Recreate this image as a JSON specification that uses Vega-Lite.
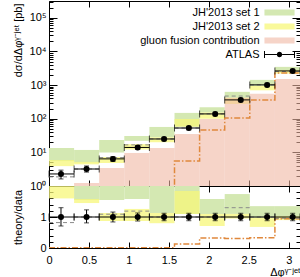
{
  "$schema": "https://vega.github.io/schema/vega-lite/v6.json",
  "padding": {"left": 11, "top": 0, "right": 0, "bottom": 0},
  "spacing": 0,
  "bounds": "flush",
  "resolve": {"scale": {"color": "independent", "shape": "independent"}},
  "config": {
    "font": "Liberation Sans",
    "view": {"stroke": "black", "strokeWidth": 1},
    "axis": {"domain": false, "grid": false, "tickColor": "black", "tickWidth": 1, "labelColor": "black", "labelFontSize": 11, "titleFontSize": 11, "titleFontWeight": "normal", "titleColor": "black", "labelFont": "Liberation Sans", "titleFont": "Liberation Sans", "labelFlush": false}
  },
  "datasets": {
    "bins": [
      {"x0": 0, "x1": 0.31416, "g_lo": 5.5, "g_hi": 13.5, "y_lo": 3.9, "y_hi": 5.9, "pk": 0.5, "dash": 1.87, "rg_lo": 2.4, "rg_hi": 5.9, "ry_lo": 1.6, "ry_hi": 2.6, "rdash": 0.82},
      {"x0": 0.31416, "x1": 0.62832, "g_lo": 5.0, "g_hi": 11.8, "y_lo": 4.4, "y_hi": 5.2, "pk": 1.23, "dash": 3.2, "rg_lo": 1.55, "rg_hi": 3.7, "ry_lo": 1.45, "ry_hi": 1.58, "rdash": 1.0},
      {"x0": 0.62832, "x1": 0.94248, "g_lo": 9.9, "g_hi": 23.4, "y_lo": 4.8, "y_hi": 7.3, "pk": 3.4, "dash": 7.0, "rg_lo": 1.55, "rg_hi": 3.6, "ry_lo": 0.87, "ry_hi": 1.13, "rdash": 1.09},
      {"x0": 0.94248, "x1": 1.25664, "g_lo": 22, "g_hi": 30.7, "y_lo": 12.2, "y_hi": 17.6, "pk": 9.6, "dash": 16.7, "rg_lo": 1.58, "rg_hi": 2.2, "ry_lo": 0.87, "ry_hi": 1.26, "rdash": 1.19},
      {"x0": 1.25664, "x1": 1.5708, "g_lo": 28, "g_hi": 57, "y_lo": 20, "y_hi": 28, "pk": 13.5, "dash": 25, "rg_lo": 1.13, "rg_hi": 2.28, "ry_lo": 0.8, "ry_hi": 1.13, "rdash": 1.0},
      {"x0": 1.5708, "x1": 1.88496, "g_lo": 58, "g_hi": 149, "y_lo": 58, "y_hi": 98, "pk": 35, "dash": 53, "rg_lo": 1.1, "rg_hi": 2.8, "ry_lo": 1.1, "ry_hi": 1.84, "rdash": 1.0},
      {"x0": 1.88496, "x1": 2.19911, "g_lo": 153, "g_hi": 220, "y_lo": 99, "y_hi": 153, "pk": 98, "dash": 139, "rg_lo": 1.1, "rg_hi": 1.58, "ry_lo": 0.71, "ry_hi": 1.1, "rdash": 1.0},
      {"x0": 2.19911, "x1": 2.51327, "g_lo": 417, "g_hi": 630, "y_lo": 275, "y_hi": 417, "pk": 417, "dash": 472, "rg_lo": 1.1, "rg_hi": 1.74, "ry_lo": 0.95, "ry_hi": 1.1, "rdash": 1.3},
      {"x0": 2.51327, "x1": 2.82743, "g_lo": 945, "g_hi": 1430, "y_lo": 700, "y_hi": 945, "pk": 550, "dash": 1014, "rg_lo": 0.97, "rg_hi": 1.35, "ry_lo": 0.68, "ry_hi": 0.97, "rdash": 1.0},
      {"x0": 2.82743, "x1": 3.14159, "g_lo": 2800, "g_hi": 3480, "y_lo": 2200, "y_hi": 2800, "pk": 1530, "dash": 2534, "rg_lo": 1.03, "rg_hi": 1.35, "ry_lo": 0.9, "ry_hi": 1.03, "rdash": 0.96}
    ],
    "steps": [
      {"x": 0, "o": 0.02, "ro": 0.01},
      {"x": 0.31416, "o": 0.03, "ro": 0.01},
      {"x": 0.62832, "o": 0.06, "ro": 0.01},
      {"x": 0.94248, "o": 0.14, "ro": 0.01},
      {"x": 1.25664, "o": 0.25, "ro": 0.01},
      {"x": 1.5708, "o": 5.5, "ro": 0.13},
      {"x": 1.88496, "o": 46, "ro": 0.32},
      {"x": 2.19911, "o": 106, "ro": 0.31},
      {"x": 2.51327, "o": 363, "ro": 0.33},
      {"x": 2.82743, "o": 2300, "ro": 0.94},
      {"x": 3.14159, "o": 2300, "ro": 0.94}
    ],
    "atlas": [
      {"x": 0.15, "x0": 0, "x1": 0.31416, "y": 2.28, "ylo": 1.62, "yhi": 2.96, "r": 1, "rlo": 0.71, "rhi": 1.3},
      {"x": 0.47, "x0": 0.31416, "x1": 0.62832, "y": 3.2, "ylo": 2.59, "yhi": 3.94, "r": 1, "rlo": 0.81, "rhi": 1.23},
      {"x": 0.8, "x0": 0.62832, "x1": 0.94248, "y": 6.4, "ylo": 5.38, "yhi": 7.42, "r": 1, "rlo": 0.84, "rhi": 1.16},
      {"x": 1.11, "x0": 0.94248, "x1": 1.25664, "y": 14, "ylo": 12.2, "yhi": 15.8, "r": 1, "rlo": 0.87, "rhi": 1.13},
      {"x": 1.44, "x0": 1.25664, "x1": 1.5708, "y": 25, "ylo": 22, "yhi": 28, "r": 1, "rlo": 0.88, "rhi": 1.12},
      {"x": 1.75, "x0": 1.5708, "x1": 1.88496, "y": 53, "ylo": 46.6, "yhi": 59.4, "r": 1, "rlo": 0.88, "rhi": 1.12},
      {"x": 2.08, "x0": 1.88496, "x1": 2.19911, "y": 139, "ylo": 122, "yhi": 156, "r": 1, "rlo": 0.88, "rhi": 1.12},
      {"x": 2.4, "x0": 2.19911, "x1": 2.51327, "y": 363, "ylo": 319, "yhi": 407, "r": 1, "rlo": 0.88, "rhi": 1.12},
      {"x": 2.73, "x0": 2.51327, "x1": 2.82743, "y": 1014, "ylo": 892, "yhi": 1136, "r": 1, "rlo": 0.88, "rhi": 1.12},
      {"x": 3.05, "x0": 2.82743, "x1": 3.14159, "y": 2640, "ylo": 2323, "yhi": 2957, "r": 1, "rlo": 0.88, "rhi": 1.12}
    ],
    "leg": [
      {"series": "JH'2013 set 1"},
      {"series": "JH'2013 set 2"},
      {"series": "gluon fusion contribution"},
      {"series": "ATLAS"}
    ]
  },
  "vconcat": [
    {
      "width": 251,
      "height": 185,
      "resolve": {"axis": {"x": "independent", "y": "independent"}},
      "layer": [
        {
          "data": {"name": "bins"},
          "mark": {"type": "rect", "color": "#d4e8b2", "clip": true},
          "encoding": {
            "x": {"field": "x0", "type": "quantitative", "scale": {"domain": [0, 3.14159], "nice": false, "zero": false}, "axis": {"orient": "bottom", "values": [0, 0.5, 1, 1.5, 2, 2.5, 3], "labels": false, "title": null, "tickSize": -6}},
            "x2": {"field": "x1"},
            "y": {"field": "g_lo", "type": "quantitative", "scale": {"type": "log", "domain": [1, 316228], "nice": false}, "axis": {"orient": "left", "values": [1, 10, 100, 1000, 10000, 100000], "labelExpr": "datum.value == 1 ? '10⁰' : datum.value == 10 ? '10¹' : datum.value == 100 ? '10²' : datum.value == 1000 ? '10³' : datum.value == 10000 ? '10⁴' : '10⁵'", "tickSize": -8, "labelPadding": 11, "title": "dσ/dΔφᵞ⁻ʲᵉᵗ [pb]", "titleX": -31, "titleY": 2, "titleAlign": "right", "titleAngle": -90, "titleBaseline": "middle"}},
            "y2": {"field": "g_hi"}
          }
        },
        {
          "data": {"name": "bins"},
          "mark": {"type": "rect", "color": "#f7f77a", "opacity": 0.75, "clip": true},
          "encoding": {
            "x": {"field": "x0", "type": "quantitative", "scale": {"domain": [0, 3.14159], "nice": false, "zero": false}, "axis": {"orient": "top", "values": [0, 0.5, 1, 1.5, 2, 2.5, 3], "labels": false, "title": null, "tickSize": -6}},
            "x2": {"field": "x1"},
            "y": {"field": "y_lo", "type": "quantitative", "scale": {"type": "log", "domain": [1, 316228], "nice": false}, "axis": {"orient": "right", "values": [1, 10, 100, 1000, 10000, 100000], "labels": false, "title": null, "tickSize": -8}},
            "y2": {"field": "y_hi"}
          }
        },
        {
          "data": {"name": "bins"},
          "mark": {"type": "rect", "color": "#f0b7a3", "opacity": 0.6, "clip": true},
          "encoding": {
            "x": {"field": "x0", "type": "quantitative", "scale": {"domain": [0, 3.14159], "nice": false, "zero": false}, "axis": null},
            "x2": {"field": "x1"},
            "y": {"field": "pk", "type": "quantitative", "scale": {"type": "log", "domain": [1, 316228], "nice": false}, "axis": {"orient": "left", "values": [2, 3, 4, 5, 6, 7, 8, 9, 20, 30, 40, 50, 60, 70, 80, 90, 200, 300, 400, 500, 600, 700, 800, 900, 2000, 3000, 4000, 5000, 6000, 7000, 8000, 9000, 20000, 30000, 40000, 50000, 60000, 70000, 80000, 90000, 200000, 300000], "labels": false, "title": null, "tickSize": -4}},
            "y2": {"datum": 1}
          }
        },
        {
          "data": {"name": "steps"},
          "mark": {"type": "line", "color": "#e0883c", "strokeWidth": 1.5, "strokeDash": [6, 2, 1.5, 2], "interpolate": "step-after", "clip": true},
          "encoding": {
            "x": {"field": "x", "type": "quantitative", "scale": {"domain": [0, 3.14159], "nice": false, "zero": false}, "axis": null},
            "y": {"field": "o", "type": "quantitative", "scale": {"type": "log", "domain": [1, 316228], "nice": false}, "axis": {"orient": "right", "values": [2, 3, 4, 5, 6, 7, 8, 9, 20, 30, 40, 50, 60, 70, 80, 90, 200, 300, 400, 500, 600, 700, 800, 900, 2000, 3000, 4000, 5000, 6000, 7000, 8000, 9000, 20000, 30000, 40000, 50000, 60000, 70000, 80000, 90000, 200000, 300000], "labels": false, "title": null, "tickSize": -4}}
          }
        },
        {
          "data": {"name": "bins"},
          "mark": {"type": "rule", "color": "#8a8a8a", "strokeWidth": 1, "strokeDash": [4, 3], "clip": true},
          "encoding": {
            "x": {"field": "x0", "type": "quantitative", "scale": {"domain": [0, 3.14159], "nice": false, "zero": false}, "axis": null},
            "x2": {"field": "x1"},
            "y": {"field": "dash", "type": "quantitative", "scale": {"type": "log", "domain": [1, 316228], "nice": false}, "axis": null}
          }
        },
        {
          "data": {"name": "atlas"},
          "mark": {"type": "errorbar", "color": "black", "thickness": 1, "ticks": {"size": 7, "thickness": 1}},
          "encoding": {
            "x": {"field": "x0", "type": "quantitative", "scale": {"domain": [0, 3.14159], "nice": false, "zero": false}, "axis": null},
            "x2": {"field": "x1"},
            "y": {"field": "y", "type": "quantitative", "scale": {"type": "log", "domain": [1, 316228], "nice": false}, "axis": null}
          }
        },
        {
          "data": {"name": "atlas"},
          "mark": {"type": "errorbar", "color": "black", "thickness": 1, "ticks": {"size": 5, "thickness": 1}},
          "encoding": {
            "x": {"field": "x", "type": "quantitative", "scale": {"domain": [0, 3.14159], "nice": false, "zero": false}, "axis": null},
            "y": {"field": "ylo", "type": "quantitative", "scale": {"type": "log", "domain": [1, 316228], "nice": false}, "axis": null},
            "y2": {"field": "yhi"}
          }
        },
        {
          "data": {"name": "atlas"},
          "mark": {"type": "point", "filled": true, "color": "black", "size": 36, "opacity": 1},
          "encoding": {
            "x": {"field": "x", "type": "quantitative", "scale": {"domain": [0, 3.14159], "nice": false, "zero": false}, "axis": null},
            "y": {"field": "y", "type": "quantitative", "scale": {"type": "log", "domain": [1, 316228], "nice": false}, "axis": null}
          }
        },
        {
          "data": {"name": "leg"},
          "mark": {"type": "point", "filled": true, "size": 49, "opacity": 1, "clip": true},
          "encoding": {
            "x": {"datum": -1, "type": "quantitative", "scale": {"domain": [0, 3.14159], "nice": false, "zero": false}, "axis": null},
            "y": {"datum": 0.001, "type": "quantitative", "scale": {"type": "log", "domain": [1, 316228], "nice": false}, "axis": null},
            "color": {"field": "series", "type": "nominal", "scale": {"domain": ["JH'2013 set 1", "JH'2013 set 2", "gluon fusion contribution", "ATLAS"], "range": ["#d4e8b2", "#f9f99b", "#f6d4c8", "black"]}, "legend": {"orient": "none", "legendX": 225, "legendY": 6, "title": null, "labelAlign": "right", "labelOffset": -25.5, "symbolSize": 49, "symbolStrokeWidth": 0, "labelFont": "Liberation Sans", "labelFontSize": 11, "labelColor": "black", "rowPadding": 2, "padding": 0, "labelLimit": 300}},
            "shape": {"field": "series", "type": "nominal", "scale": {"domain": ["JH'2013 set 1", "JH'2013 set 2", "gluon fusion contribution", "ATLAS"], "range": ["M-4.3,-0.86H4.3V0.86H-4.3Z", "M-4.3,-0.86H4.3V0.86H-4.3Z", "M-4.3,-0.86H4.3V0.86H-4.3Z", "M-4.43,-1H-4.14V1H-4.43Z M4.14,-1H4.43V1H4.14Z M-4.14,-0.14H-0.77V0.14H-4.14Z M0.77,-0.14H4.14V0.14H0.77Z M0.77,0A0.77,0.77,0,1,1,-0.77,0A0.77,0.77,0,1,1,0.77,0Z"]}}
          }
        }
      ]
    },
    {
      "width": 251,
      "height": 62,
      "resolve": {"axis": {"x": "independent", "y": "independent"}},
      "layer": [
        {
          "data": {"name": "bins"},
          "mark": {"type": "rect", "color": "#d4e8b2", "clip": true},
          "encoding": {
            "x": {"field": "x0", "type": "quantitative", "scale": {"domain": [0, 3.14159], "nice": false, "zero": false}, "axis": {"orient": "bottom", "values": [0, 0.5, 1, 1.5, 2, 2.5, 3], "format": "~g", "tickSize": -6, "labelPadding": 12, "title": "Δφᵞ⁻ʲᵉᵗ", "titleX": 251, "titleY": 24, "titleAlign": "right", "titleBaseline": "middle"}},
            "x2": {"field": "x1"},
            "y": {"field": "rg_lo", "type": "quantitative", "scale": {"domain": [0, 2], "nice": false, "zero": false}, "axis": {"orient": "left", "values": [0, 1], "format": "~g", "tickSize": -8, "labelPadding": 11, "title": "theory/data", "titleX": -31, "titleY": 31, "titleAlign": "center", "titleAngle": -90, "titleBaseline": "middle"}},
            "y2": {"field": "rg_hi"}
          }
        },
        {
          "data": {"name": "bins"},
          "mark": {"type": "rect", "color": "#f7f77a", "opacity": 0.75, "clip": true},
          "encoding": {
            "x": {"field": "x0", "type": "quantitative", "scale": {"domain": [0, 3.14159], "nice": false, "zero": false}, "axis": {"orient": "top", "values": [0, 0.5, 1, 1.5, 2, 2.5, 3], "labels": false, "title": null, "tickSize": -6}},
            "x2": {"field": "x1"},
            "y": {"field": "ry_lo", "type": "quantitative", "scale": {"domain": [0, 2], "nice": false, "zero": false}, "axis": {"orient": "right", "values": [1], "labels": false, "title": null, "tickSize": -8}},
            "y2": {"field": "ry_hi"}
          }
        },
        {
          "mark": {"type": "rule", "color": "#333333", "strokeWidth": 1},
          "encoding": {
            "y": {"datum": 1, "type": "quantitative", "scale": {"domain": [0, 2], "nice": false, "zero": false}, "axis": {"orient": "left", "values": [0.2, 0.4, 0.6, 0.8, 1.2, 1.4, 1.6, 1.8], "labels": false, "title": null, "tickSize": -4}}
          }
        },
        {
          "data": {"name": "steps"},
          "mark": {"type": "line", "color": "#e0883c", "strokeWidth": 1.5, "strokeDash": [6, 2, 1.5, 2], "interpolate": "step-after", "clip": true},
          "encoding": {
            "x": {"field": "x", "type": "quantitative", "scale": {"domain": [0, 3.14159], "nice": false, "zero": false}, "axis": null},
            "y": {"field": "ro", "type": "quantitative", "scale": {"domain": [0, 2], "nice": false, "zero": false}, "axis": {"orient": "right", "values": [0.2, 0.4, 0.6, 0.8, 1.2, 1.4, 1.6, 1.8], "labels": false, "title": null, "tickSize": -4}}
          }
        },
        {
          "data": {"name": "bins"},
          "mark": {"type": "rule", "color": "#8a8a8a", "strokeWidth": 1, "strokeDash": [4, 3], "clip": true},
          "encoding": {
            "x": {"field": "x0", "type": "quantitative", "scale": {"domain": [0, 3.14159], "nice": false, "zero": false}, "axis": null},
            "x2": {"field": "x1"},
            "y": {"field": "rdash", "type": "quantitative", "scale": {"domain": [0, 2], "nice": false, "zero": false}, "axis": null}
          }
        },
        {
          "data": {"name": "atlas"},
          "mark": {"type": "errorbar", "color": "black", "thickness": 1, "ticks": {"size": 7, "thickness": 1}},
          "encoding": {
            "x": {"field": "x0", "type": "quantitative", "scale": {"domain": [0, 3.14159], "nice": false, "zero": false}, "axis": null},
            "x2": {"field": "x1"},
            "y": {"field": "r", "type": "quantitative", "scale": {"domain": [0, 2], "nice": false, "zero": false}, "axis": null}
          }
        },
        {
          "data": {"name": "atlas"},
          "mark": {"type": "errorbar", "color": "black", "thickness": 1, "ticks": {"size": 5, "thickness": 1}},
          "encoding": {
            "x": {"field": "x", "type": "quantitative", "scale": {"domain": [0, 3.14159], "nice": false, "zero": false}, "axis": null},
            "y": {"field": "rlo", "type": "quantitative", "scale": {"domain": [0, 2], "nice": false, "zero": false}, "axis": null},
            "y2": {"field": "rhi"}
          }
        },
        {
          "data": {"name": "atlas"},
          "mark": {"type": "point", "filled": true, "color": "black", "size": 36, "opacity": 1},
          "encoding": {
            "x": {"field": "x", "type": "quantitative", "scale": {"domain": [0, 3.14159], "nice": false, "zero": false}, "axis": null},
            "y": {"field": "r", "type": "quantitative", "scale": {"domain": [0, 2], "nice": false, "zero": false}, "axis": null}
          }
        }
      ]
    }
  ]
}
